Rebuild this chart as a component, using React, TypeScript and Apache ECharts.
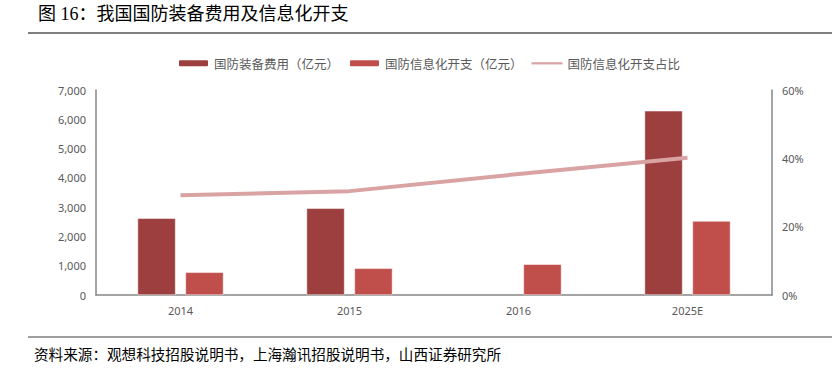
import React, { useEffect, useRef } from "react";
import * as echarts from "echarts";

const categories = ["2014", "2015", "2016", "2025E"];
const equipment = [2620, 2960, null, 6290];
const informatization = [775, 910, 1050, 2525];
const share = [29.2, 30.4, 35.4, 40.2];
const leftTicks = { min: 0, max: 7000, interval: 1000 };
const rightTicks = { min: 0, max: 60, interval: 20 };

const nameEquip = "国防装备费用（亿元）";
const nameInfo = "国防信息化开支（亿元）";
const nameShare = "国防信息化开支占比";

export default function App() {
  const ref = useRef<HTMLDivElement>(null);
  useEffect(() => {
    if (!ref.current) return;
    const chart = echarts.init(ref.current, null, { renderer: "svg" });
    const axisLabel = { color: "#595959", fontSize: 11, fontFamily: "Noto Sans, sans-serif" };
    chart.setOption({
      animation: false,
      backgroundColor: "#fff",
      graphic: [
        { type: "text", left: 38, top: 5, style: { text: "图 16：我国国防装备费用及信息化开支", fontSize: 18, fill: "#000", fontFamily: "Liberation Serif, Noto Sans CJK SC" } },
        { type: "line", shape: { x1: 28, y1: 33, x2: 832, y2: 33 }, style: { stroke: "#7f7f7f", lineWidth: 2 } },
        { type: "line", shape: { x1: 28, y1: 337, x2: 832, y2: 337 }, style: { stroke: "#7f7f7f", lineWidth: 1.5 } },
        { type: "text", left: 34, top: 346, style: { text: "资料来源：观想科技招股说明书，上海瀚讯招股说明书，山西证券研究所", fontSize: 14.6, fill: "#000", fontFamily: "Noto Sans CJK SC" } },
      ],
      legend: {
        top: 52,
        left: 172,
        itemWidth: 31,
        itemHeight: 8,
        itemGap: 9,
        textStyle: { color: "#595959", fontSize: 12.5, fontFamily: "Noto Sans CJK SC" },
        data: [
          { name: nameEquip },
          { name: nameInfo },
          { name: nameShare, icon: "path://M0 0L0 0M0 3H31V5.2H0ZM31 8L31 8", itemStyle: { color: "#D9A3A3" } },
        ],
      },
      grid: { left: 96, right: 60, top: 90, bottom: 77 },
      xAxis: {
        type: "category",
        data: categories,
        axisLine: { lineStyle: { color: "#868686", width: 1.5 } },
        axisTick: { show: false },
        axisLabel: { ...axisLabel, margin: 10 },
      },
      yAxis: [
        {
          type: "value",
          ...leftTicks,
          axisLine: { show: true, lineStyle: { color: "#868686", width: 1.5 } },
          axisTick: { show: false },
          splitLine: { show: false },
          axisLabel: { ...axisLabel, margin: 10, formatter: (v: number) => v.toLocaleString("en-US") },
        },
        {
          type: "value",
          ...rightTicks,
          axisLine: { show: true, lineStyle: { color: "#868686", width: 1.5 } },
          axisTick: { show: false },
          splitLine: { show: false },
          axisLabel: { ...axisLabel, margin: 10, formatter: "{value}%" },
        },
      ],
      series: [
        {
          name: nameEquip,
          type: "bar",
          data: equipment,
          barWidth: 38,
          barGap: "26%",
          itemStyle: { color: "#9C3F3E", borderColor: "#fff", borderWidth: 0.5 },
        },
        {
          name: nameInfo,
          type: "bar",
          data: informatization,
          barWidth: 38,
          itemStyle: { color: "#C04F4C", borderColor: "#fff", borderWidth: 0.5 },
        },
        {
          name: nameShare,
          type: "line",
          yAxisIndex: 1,
          data: share,
          symbol: "none",
          lineStyle: { color: "#D9A3A3", width: 4 },
          itemStyle: { color: "#D9A3A3" },
        },
      ],
    });
    return () => chart.dispose();
  }, []);
  return <div ref={ref} style={{ position: "absolute", left: 0, top: 0, width: 832, height: 372 }} />;
}
